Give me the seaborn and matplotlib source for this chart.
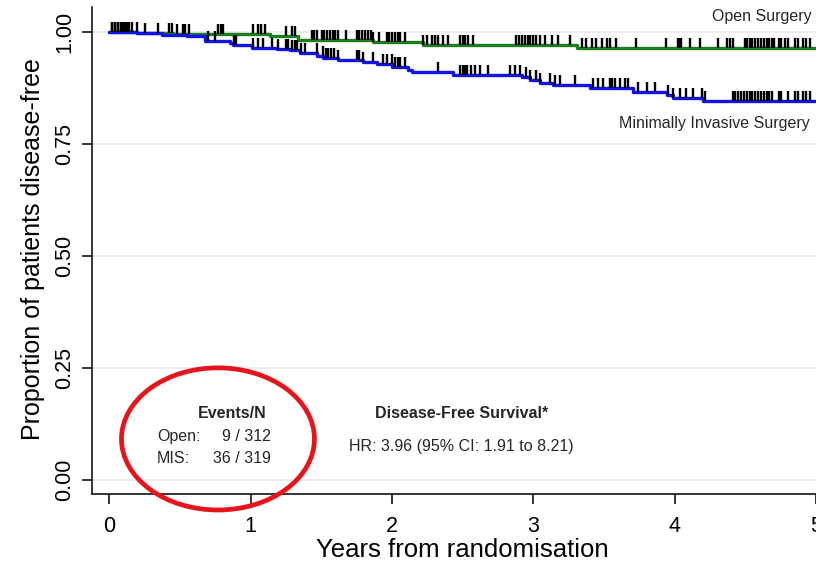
import numpy as np
import pandas as pd
import matplotlib
matplotlib.use("Agg")
import matplotlib.pyplot as plt
import seaborn as sns
from matplotlib.path import Path
from matplotlib.patches import Ellipse

# ---------------- data ----------------
groups = ["Open Surgery", "Minimally Invasive Surgery"]

open_times = [0.0, 0.197, 0.45, 1.136, 1.334, 1.865, 2.219, 3.308, 5.0]
open_surv = [1.0, 0.997, 0.994, 0.990, 0.981, 0.976, 0.970, 0.964, 0.964]

mis_times = [0.0, 0.197, 0.374, 0.55, 0.677, 0.854, 0.875, 1.009, 1.186, 1.278,
             1.349, 1.469, 1.511, 1.617, 1.794, 1.893, 1.999, 2.112, 2.141,
             2.43, 2.918, 2.975, 3.045, 3.138, 3.40, 3.704, 3.944, 3.986,
             4.198, 5.0]
mis_surv = [1.0, 0.997, 0.993, 0.989, 0.978, 0.974, 0.969, 0.964, 0.961, 0.958,
            0.953, 0.946, 0.941, 0.937, 0.932, 0.927, 0.921, 0.915, 0.909,
            0.903, 0.898, 0.892, 0.886, 0.880, 0.873, 0.865, 0.858, 0.852,
            0.844, 0.844]

open_censor = [0.02, 0.04, 0.06, 0.08, 0.10, 0.111, 0.127, 0.141, 0.158, 0.194,
               0.252, 0.347, 0.424, 0.441, 0.477, 0.519, 0.535, 0.566, 0.767,
               0.79, 0.806, 1.014, 1.054, 1.075, 1.101, 1.25, 1.29, 1.313,
               1.431, 1.448, 1.467, 1.502, 1.52, 1.54, 1.56, 1.58, 1.60, 1.62,
               1.674, 1.75, 1.77, 1.79, 1.81, 1.83, 1.85, 1.867, 1.909, 1.962,
               1.98, 2.0, 2.02, 2.04, 2.06, 2.09, 2.221, 2.247, 2.28, 2.303,
               2.327, 2.362, 2.397, 2.48, 2.50, 2.52, 2.54, 2.574, 2.881, 2.898,
               2.917, 2.94, 2.96, 2.98, 3.0, 3.02, 3.045, 3.081, 3.129, 3.175,
               3.258, 3.341, 3.376, 3.412, 3.447, 3.487, 3.518, 3.541, 3.588,
               3.73, 3.942, 4.024, 4.036, 4.048, 4.107, 4.178, 4.307, 4.371,
               4.39, 4.413, 4.496, 4.51, 4.53, 4.55, 4.57, 4.59, 4.61, 4.63,
               4.65, 4.67, 4.69, 4.70, 4.738, 4.755, 4.778, 4.802, 4.849,
               4.873, 4.908, 4.932, 4.955]

mis_censor = [0.02, 0.04, 0.06, 0.08, 0.10, 0.698, 0.748, 0.88, 0.90, 1.014,
              1.054, 1.089, 1.149, 1.193, 1.25, 1.263, 1.29, 1.313, 1.33, 1.36,
              1.384, 1.467, 1.51, 1.53, 1.55, 1.57, 1.59, 1.617, 1.75, 1.77,
              1.796, 1.867, 1.936, 1.962, 1.997, 2.02, 2.04, 2.06, 2.09, 2.327,
              2.48, 2.50, 2.52, 2.53, 2.56, 2.59, 2.62, 2.68, 2.834, 2.869,
              2.904, 2.946, 2.975, 3.02, 3.045, 3.117, 3.152, 3.188, 3.294,
              3.423, 3.458, 3.494, 3.54, 3.56, 3.575, 3.611, 3.647, 3.67, 3.741,
              3.801, 3.859, 3.953, 3.989, 4.036, 4.083, 4.13, 4.19, 4.213,
              4.41, 4.43, 4.45, 4.47, 4.49, 4.51, 4.53, 4.55, 4.57, 4.59, 4.61,
              4.63, 4.65, 4.67, 4.69, 4.738, 4.755, 4.802, 4.849, 4.873, 4.908,
              4.932, 4.955]

x_ticks = [0, 1, 2, 3, 4, 5]
y_ticks = [0.0, 0.25, 0.50, 0.75, 1.00]
y_ticklabels = ["0.00", "0.25", "0.50", "0.75", "1.00"]

colors = {"Open Surgery": "#1b7f1b", "Minimally Invasive Surgery": "#1212ee"}

# ---------------- frames ----------------
curve_df = pd.concat([
    pd.DataFrame({"years": open_times, "surv": open_surv, "group": groups[0]}),
    pd.DataFrame({"years": mis_times, "surv": mis_surv, "group": groups[1]}),
], ignore_index=True)


def step_eval(times, surv, t):
    idx = np.searchsorted(np.asarray(times), np.asarray(t), side="right") - 1
    return np.asarray(surv)[idx]


censor_df = pd.concat([
    pd.DataFrame({"years": open_censor,
                  "surv": step_eval(open_times, open_surv, open_censor)}),
    pd.DataFrame({"years": mis_censor,
                  "surv": step_eval(mis_times, mis_surv, mis_censor)}),
], ignore_index=True)

# ---------------- figure ----------------
sns.set_style("white")
plt.rcParams["font.family"] = ["Liberation Sans", "DejaVu Sans"]

W, H = 816, 562
fig = plt.figure(figsize=(W / 100, H / 100), dpi=100)
ax = fig.add_axes([92.3 / W, 1 - 494.3 / H, 1 - 92.3 / W, (494.3 - 7.3) / H])

ax.yaxis.grid(True, color="#e3eaee", linewidth=1.2)
ax.xaxis.grid(False)
ax.set_axisbelow(True)

sns.lineplot(data=curve_df, x="years", y="surv", hue="group", palette=colors,
             drawstyle="steps-post", estimator=None, sort=False, legend=False,
             linewidth=2.4, ax=ax, zorder=2)

tick_marker = Path([(0, 0), (0, 1)])
sns.scatterplot(data=censor_df, x="years", y="surv", marker=tick_marker,
                s=210, color="black", edgecolor="black", linewidth=1.7,
                legend=False, ax=ax, zorder=3)

ax.set_xlim(-0.12, 5.0)
ax.set_ylim(-0.032, 1.054)
ax.set_xticks(x_ticks)
ax.set_yticks(y_ticks)
ax.set_yticklabels(y_ticklabels, rotation=90, va="center")

for s in ["top", "right"]:
    ax.spines[s].set_visible(False)
for s in ["left", "bottom"]:
    ax.spines[s].set_color("black")
    ax.spines[s].set_linewidth(1.1)

ax.tick_params(axis="both", direction="out", length=7.2, width=1.1,
               color="black", labelsize=15.5, labelcolor="black",
               bottom=True, left=True, top=False, right=False)
ax.tick_params(axis="x", pad=8.5)
ax.tick_params(axis="y", pad=5.1)

ax.set_xlabel("Years from randomisation", fontsize=18.5, color="black")
ax.set_ylabel("Proportion of patients disease-free", fontsize=18, color="black")
ax.xaxis.set_label_coords(0.511, -0.0896)
ax.xaxis.label.set_va("top")
ax.yaxis.set_label_coords(-0.066, 0.504)

# curve labels
ax.text(4.97, 1.033, "Open Surgery", ha="right", va="center", fontsize=11.5)
ax.text(4.955, 0.794, "Minimally Invasive Surgery", ha="right", va="center",
        fontsize=11.5)

# events table
ax.text(0.868, 0.149, "Events/N", ha="center", va="center", fontsize=11.5,
        fontweight="bold")
ax.text(0.337, 0.096, "Open:", ha="left", va="center", fontsize=11.5)
ax.text(1.143, 0.096, "9 / 312", ha="right", va="center", fontsize=11.5)
ax.text(0.337, 0.047, "MIS:", ha="left", va="center", fontsize=11.5)
ax.text(1.143, 0.047, "36 / 319", ha="right", va="center", fontsize=11.5)

ax.text(2.494, 0.149, "Disease-Free Survival*", ha="center", va="center",
        fontsize=11.5, fontweight="bold")
ax.text(2.494, 0.0736, "HR: 3.96 (95% CI: 1.91 to 8.21)", ha="center",
        va="center", fontsize=11.5)

ax.add_patch(Ellipse((0.769, 0.0915), width=1.365, height=0.317, fill=False,
                     edgecolor="#e8141c", linewidth=3.4, clip_on=False,
                     zorder=5))

fig.savefig("out.png", dpi=100)
